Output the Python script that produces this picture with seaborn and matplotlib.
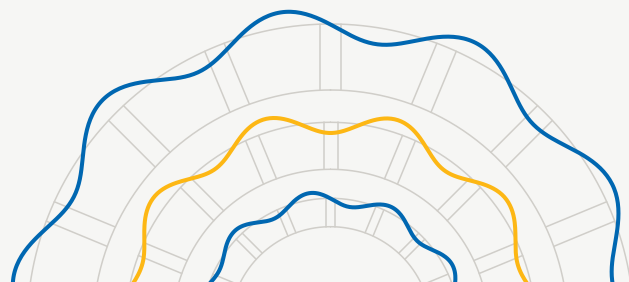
import numpy as np
import pandas as pd
import matplotlib
matplotlib.use("Agg")
import matplotlib.pyplot as plt
import seaborn as sns

# ring bands (radius in px, centre sits below the picture)
ring_outer = [303.5, 205.2, 129.2]
ring_inner = [237.5, 158.2, 100.8]
spoke_half = [10.5, 7.0, 4.3]     # half width of the gaps between ring boxes
n_spokes = 16

# wave series: angle (deg, clockwise from top) of each crest / trough and its radius
outer_ang = [-99, -81, -63, -45, -27, -9, 9, 27, 45, 63, 81, 99]
outer_r = [287, 321, 288, 322, 287.5, 319, 287, 319.5, 287, 316, 285.5, 318]
mid_ang = [-90, -72, -54, -36, -18, 0, 18, 36, 54, 72, 90]
mid_r = [217, 198.5, 219.5, 196, 218.5, 194.5, 218, 194, 217.5, 197.5, 217]
inner_ang = [-99, -81, -63, -45, -27, -9, 9, 27, 45, 63, 81, 99]
inner_r = [124, 136, 125, 136, 122.5, 136, 122, 135, 122.5, 137, 124, 136]

bg = "#f6f6f4"
grey = "#d0cec9"
blue = "#0067b1"
yellow = "#fdb714"

sns.set_theme(style="white", rc={"figure.facecolor": bg, "axes.facecolor": bg})


def smooth(ang, rad, n=40):
    # half-cosine easing between crests and troughs (drawing only)
    th, rr = [], []
    for a0, a1, r0, r1 in zip(ang[:-1], ang[1:], rad[:-1], rad[1:]):
        t = np.linspace(0, 1, n, endpoint=False)
        th.append(a0 + (a1 - a0) * t)
        rr.append(r0 + (r1 - r0) * (1 - np.cos(np.pi * t)) / 2)
    th.append([ang[-1]])
    rr.append([rad[-1]])
    return pd.DataFrame({"theta": np.radians(np.concatenate(th)), "r": np.concatenate(rr)})


W, H = 629, 282
cx, cy = 330.5, 327.5   # pixel position of the centre (from top-left)
R = 330.0

fig = plt.figure(figsize=(W / 100, H / 100), dpi=100)
ax = fig.add_axes([(cx - R) / W, 1 - (cy + R) / H, 2 * R / W, 2 * R / H], projection="polar")
ax.set_theta_zero_location("N")
ax.set_theta_direction(-1)
ax.set_ylim(0, R)
ax.axis("off")

# grey rings
full = np.linspace(0, 2 * np.pi, 721)
for ro, ri in zip(ring_outer, ring_inner):
    ax.plot(full, np.full_like(full, ro), color=grey, lw=1.1, zorder=1)
    ax.plot(full, np.full_like(full, ri), color=grey, lw=1.1, zorder=1)

# spoke gaps: pairs of parallel lines across every band
for ro, ri, h in zip(ring_outer, ring_inner, spoke_half):
    rs = np.linspace(ri, ro, 20)
    for k in range(n_spokes):
        phi = k * 2 * np.pi / n_spokes
        for s in (-1, 1):
            ax.plot(phi + s * np.arcsin(h / rs), rs, color=grey, lw=1.1, zorder=1)

# the three wavy lines
for ang, rad, col in [(outer_ang, outer_r, blue), (mid_ang, mid_r, yellow), (inner_ang, inner_r, blue)]:
    sns.lineplot(data=smooth(ang, rad), x="theta", y="r", sort=False, estimator=None,
                 color=col, lw=2.9, ax=ax, zorder=3)

ax.axis("off")
fig.savefig("out.png", dpi=100, facecolor=bg)
